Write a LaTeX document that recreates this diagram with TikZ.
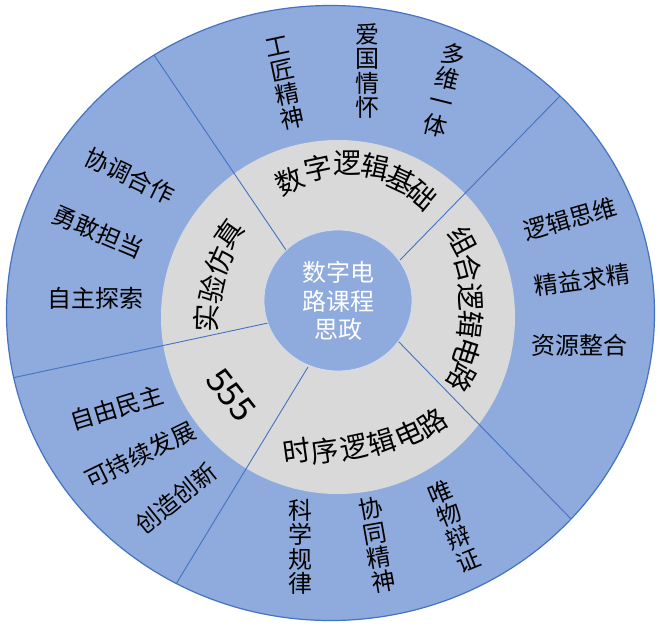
\documentclass[tikz,border=0pt]{standalone}
\usepackage{fontspec}
\setmainfont{Noto Sans CJK SC}
\definecolor{bfill}{HTML}{8FAADC}
\definecolor{bline}{HTML}{4472C4}
\definecolor{gfill}{HTML}{D9D9D9}
\begin{document}
\begin{tikzpicture}[x=1pt,y=-1pt,
  olab/.style={font=\fontsize{24}{24.5}\selectfont, inner sep=0pt, align=center},
  glab/.style={font=\fontsize{28}{30}\selectfont, inner sep=0pt},
  divider/.style={draw=bline, line width=0.9pt}]
\useasboundingbox (0,0) rectangle (660,627);
\fill[white] (0,0) rectangle (660,627);
% outer disc
\draw[fill=bfill, draw=bline, line width=1.2pt] (330.5,313) ellipse [x radius=324pt, y radius=307.5pt];
% gray ring
\fill[gfill] (338,317) circle [radius=177pt];
% dividers
\coordinate (a1) at (154,55);  \coordinate (b1) at (286,250);
\coordinate (a2) at (560,96);  \coordinate (b2) at (400,260);
\coordinate (a3) at (12,378);  \coordinate (b3) at (268,323);
\coordinate (a4) at (176,584); \coordinate (b4) at (308,367);
\coordinate (a5) at (572,520); \coordinate (b5) at (398,341);
\begin{scope}
\clip (330.5,313) ellipse [x radius=324pt, y radius=307.5pt];
\draw[divider] (a1) -- (b1);
\draw[divider] (a2) -- (b2);
\draw[divider] (a3) -- (b3);
\draw[divider] (a4) -- (b4);
\draw[divider] (a5) -- (b5);
\end{scope}
% center disc
\draw[fill=bfill, draw=white!60!bfill, line width=0.8pt] (338,300.5) ellipse [x radius=74pt, y radius=70.5pt];
\node[font=\fontsize{24}{28.5}\selectfont, text=white, align=center, inner sep=0pt] (core) at (338,301) {数字电\\路课程\\思政};
% gray ring texts
\node[glab, rotate=25]  (g11) at (290,181) {数};
\node[glab, rotate=12]  (g12) at (318,168) {字};
\node[glab, rotate=0]   (g13) at (347,163) {逻};
\node[glab, rotate=-12] (g14) at (375,167) {辑};
\node[glab, rotate=-25] (g15) at (401,179) {基};
\node[glab, rotate=-40] (g16) at (422,195) {础};
\node[glab, rotate=-62]  (g21) at (463,241) {组};
\node[glab, rotate=-75]  (g22) at (468,268) {合};
\node[glab, rotate=-87]  (g23) at (470,297) {逻};
\node[glab, rotate=-97]  (g24) at (470,325) {辑};
\node[glab, rotate=-108] (g25) at (467,352) {电};
\node[glab, rotate=-120] (g26) at (462,378) {路};
\node[glab, rotate=88] (g31) at (206,318) {实};
\node[glab, rotate=77] (g32) at (212,289) {验};
\node[glab, rotate=66] (g33) at (219,261) {仿};
\node[glab, rotate=55] (g34) at (229,234) {真};
\node[glab, rotate=8]  (g41) at (297,451) {时};
\node[glab, rotate=8]  (g42) at (325,451) {序};
\node[glab, rotate=12] (g43) at (354,448) {逻};
\node[glab, rotate=17] (g44) at (382,442) {辑};
\node[glab, rotate=24] (g45) at (409,434) {电};
\node[glab, rotate=33] (g46) at (432,423) {路};
\node[font=\fontsize{34}{36}\selectfont, inner sep=0pt, rotate=-52] (g51) at (231,395) {555};
% outer labels
\node[olab, rotate=-26] (t1) at (130,176) {协调合作};
\node[olab, rotate=-23] (t2) at (98,232) {勇敢担当};
\node[olab] (t3) at (95,298) {自主探索};
\node[olab, rotate=12] (t4) at (285,83) {工\\匠\\精\\神};
\node[olab] (t5) at (367,71) {爱\\国\\情\\怀};
\node[olab, rotate=-14] (t6) at (444,90) {多\\维\\一\\体};
\node[olab, rotate=16] (t7) at (570,219) {逻辑思维};
\node[olab, rotate=8] (t8) at (582,280) {精益求精};
\node[olab] (t9) at (579,345) {资源整合};
\node[olab, rotate=22] (t10) at (454,526) {唯\\物\\辩\\证};
\node[olab, rotate=10] (t11) at (377,545) {协\\同\\精\\神};
\node[olab] (t12) at (300,547) {科\\学\\规\\律};
\node[olab, rotate=39] (t13) at (176,498) {创造创新};
\node[olab, rotate=26] (t14) at (140,455) {可持续发展};
\node[olab, rotate=17] (t15) at (117,408) {自由民主};
\end{tikzpicture}
\end{document}
